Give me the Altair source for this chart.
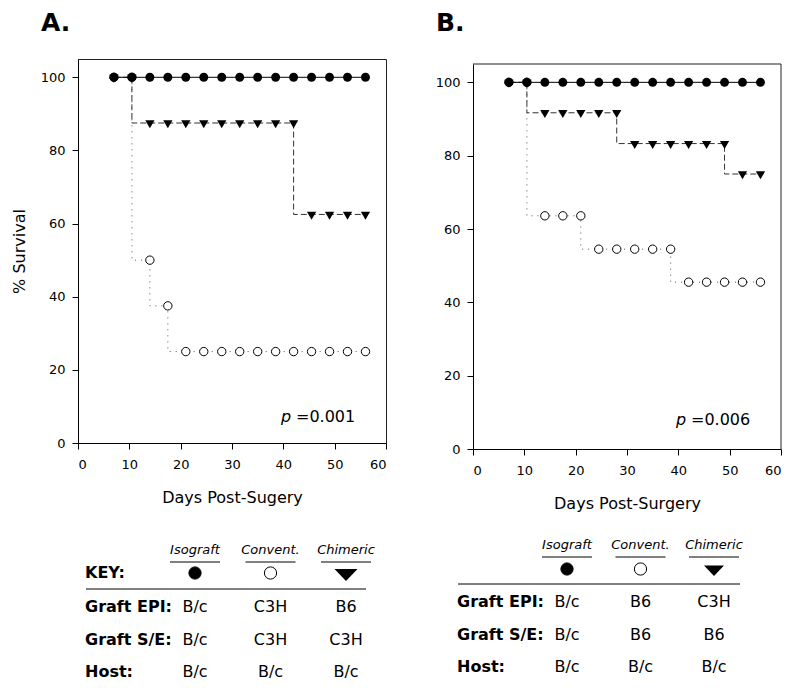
import altair as alt
import pandas as pd

# ---------------- data ----------------
days = [7, 10.5, 14, 17.5, 21, 24.5, 28, 31.5, 35, 38.5, 42, 45.5, 49, 52.5, 56]
groups = ["Isograft", "Convent.", "Chimeric"]

a_isograft = [100, 100, 100, 100, 100, 100, 100, 100, 100, 100, 100, 100, 100, 100, 100]
a_convent = [100, 100, 50, 37.5, 25, 25, 25, 25, 25, 25, 25, 25, 25, 25, 25]
a_chimeric = [100, 100, 87.5, 87.5, 87.5, 87.5, 87.5, 87.5, 87.5, 87.5, 87.5, 62.5, 62.5, 62.5, 62.5]

b_isograft = [100, 100, 100, 100, 100, 100, 100, 100, 100, 100, 100, 100, 100, 100, 100]
b_convent = [100, 100, 63.6, 63.6, 63.6, 54.5, 54.5, 54.5, 54.5, 54.5, 45.5, 45.5, 45.5, 45.5, 45.5]
b_chimeric = [100, 100, 91.7, 91.7, 91.7, 91.7, 91.7, 83.3, 83.3, 83.3, 83.3, 83.3, 83.3, 75, 75]

x_ticks = [0, 10, 20, 30, 40, 50, 60]
y_ticks = [0, 20, 40, 60, 80, 100]

key_rows = ["Graft EPI:", "Graft S/E:", "Host:"]
a_key_isograft = ["B/c", "B/c", "B/c"]
a_key_convent = ["C3H", "C3H", "B/c"]
a_key_chimeric = ["B6", "C3H", "B/c"]
b_key_isograft = ["B/c", "B/c", "B/c"]
b_key_convent = ["B6", "B6", "B/c"]
b_key_chimeric = ["C3H", "B6", "B/c"]

FONT = "DejaVu Sans"
FRAME = "#222222"
TRI_PLOT = "M-1,-0.577L1,-0.577L0,1.155Z"
TRI_KEY = "M-1,-0.35L1,-0.35L0,0.7Z"
W = 308


def panel(letter, iso, conv, chim, key_cols, x_title, y_title, p_label, g, show_key_word):
    n = len(days)
    top = g["top"]          # pixel offset of the plot frame below the group origin
    H = g["h"]
    surv = pd.DataFrame({
        "day": days + days + days,
        "pct": iso + conv + chim,
        "group": [groups[0]] * n + [groups[1]] * n + [groups[2]] * n,
    })
    if y_title is None:
        y_axis = alt.Axis(values=y_ticks, title=None, format="d")
    else:
        y_axis = alt.Axis(values=y_ticks, title=y_title, format="d")
    xq = alt.X("day:Q", scale=alt.Scale(domain=[0, 60], nice=False, zero=False),
               axis=alt.Axis(values=x_ticks, title=x_title, format="d"))
    yq = alt.Y("pct:Q", scale=alt.Scale(domain=[0, 105], nice=False, zero=False, range=[H, top]),
               axis=y_axis)
    base = alt.Chart(surv).encode(x=xq, y=yq)

    def sel(name):
        return base.transform_filter(alt.datum.group == name)

    l_conv = sel("Convent.").mark_line(interpolate="step-before", color="#555555",
                                       strokeWidth=1, strokeDash=[1, 5])
    l_chim = sel("Chimeric").mark_line(interpolate="step-before", color="#333333",
                                       strokeWidth=1, strokeDash=[6, 3])
    l_iso = sel("Isograft").mark_line(interpolate="step-before", color="black", strokeWidth=1)
    p_conv = sel("Convent.").mark_point(shape="circle", size=70, filled=True, fill="white",
                                        stroke="black", strokeWidth=1, opacity=1)
    p_chim = sel("Chimeric").mark_point(shape=TRI_PLOT, size=86, filled=True, color="black", opacity=1)
    p_iso = sel("Isograft").mark_point(shape="circle", size=80, filled=True, color="black", opacity=1)

    t_p = alt.Chart(pd.DataFrame({"t": ["p"]})).mark_text(
        font=FONT, fontSize=16, fontStyle="italic", align="center", baseline="alphabetic", color="black"
    ).encode(text="t:N", x=alt.value(g["px"]), y=alt.value(top + g["py"]))
    t_val = alt.Chart(pd.DataFrame({"t": [p_label]})).mark_text(
        font=FONT, fontSize=16, align="left", baseline="alphabetic", color="black"
    ).encode(text="t:N", x=alt.value(g["vx"]), y=alt.value(top + g["py"]))

    plot_layers = [l_conv, l_chim, l_iso, p_conv, p_chim, p_iso, t_p, t_val]
    if top > 0:
        frame_df = pd.DataFrame({"t": ["frame"]})
        f_top = alt.Chart(frame_df).mark_rule(color=FRAME, strokeWidth=1).encode(
            x=alt.value(0), x2=alt.value(W), y=alt.value(top))
        f_right = alt.Chart(frame_df).mark_rule(color=FRAME, strokeWidth=1).encode(
            x=alt.value(W), y=alt.value(top), y2=alt.value(H))
        plot_layers = [f_top, f_right] + plot_layers
    plot = alt.layer(*plot_layers)

    # ---- key table ----
    key_df = pd.DataFrame({
        "row": key_rows + key_rows + key_rows,
        "col": [groups[0]] * 3 + [groups[1]] * 3 + [groups[2]] * 3,
        "val": key_cols[0] + key_cols[1] + key_cols[2],
    })
    hdr = pd.DataFrame({"col": groups})
    rows_df = pd.DataFrame({"row": key_rows})
    one = pd.DataFrame({"t": ["KEY:"]})

    tx = alt.X("col:N", scale=alt.Scale(type="point", domain=groups, range=[g["c0"], g["c2"]], padding=0),
               axis=None)
    ty = alt.Y("row:N", scale=alt.Scale(type="point", domain=key_rows,
                                        range=[top + g["r0"], top + g["r2"]], padding=0),
               axis=None)

    headers = alt.Chart(hdr).mark_text(font=FONT, fontSize=13, fontStyle="italic", baseline="middle",
                                       color="black").encode(x=tx, y=alt.value(top + g["hy"]), text="col:N")
    underl = alt.Chart(hdr).mark_rule(color="black", strokeWidth=1, xOffset=-25, x2Offset=25).encode(
        x=tx, x2="col:N", y=alt.value(top + g["uy"]))
    circ = alt.Chart(hdr).transform_filter(alt.datum.col != "Chimeric").mark_point(
        shape="circle", size=150, filled=True, stroke="black", strokeWidth=1, opacity=1
    ).encode(x=tx, y=alt.value(top + g["sy"]),
             fill=alt.Fill("col:N", scale=alt.Scale(domain=["Isograft", "Convent."], range=["black", "white"]),
                           legend=None))
    tri = alt.Chart(hdr).transform_filter(alt.datum.col == "Chimeric").mark_point(
        shape=TRI_KEY, size=g["ts"], filled=True, color="black", opacity=1
    ).encode(x=tx, y=alt.value(top + g["sy"]))
    sep = alt.Chart(one).mark_rule(color="black", strokeWidth=1).encode(
        x=alt.value(g["s0"]), x2=alt.value(g["s1"]), y=alt.value(top + g["sepy"]))
    row_lbl = alt.Chart(rows_df).mark_text(font=FONT, fontSize=16, fontWeight="bold", align="left",
                                          baseline="middle", color="black").encode(
        x=alt.value(g["lx"]), y=ty, text="row:N")
    vals = alt.Chart(key_df).mark_text(font=FONT, fontSize=16, baseline="middle", color="black").encode(
        x=tx, y=ty, text="val:N")
    tlayers = [headers, underl, circ, tri, sep, row_lbl, vals]
    if show_key_word:
        kw = alt.Chart(one).mark_text(font=FONT, fontSize=16, fontWeight="bold", align="left",
                                      baseline="middle", color="black").encode(
            x=alt.value(g["lx"]), y=alt.value(top + g["sy"]), text="t:N")
        tlayers.append(kw)
    table = alt.layer(*tlayers)

    props = dict(
        width=W, height=H,
        title=alt.Title(letter, anchor="start", frame="group", dx=-37, offset=g["toff"], fontSize=25,
                        fontWeight="bold", font=FONT, color="black"),
    )
    if top > 0:
        props["view"] = alt.ViewBackground(stroke=None)
    return alt.layer(plot, table).resolve_scale(x="independent", y="independent").properties(**props)


geo_a = dict(top=0, h=384, px=208, py=363, vx=218, c0=117, c2=268, r0=548, r2=613, hy=491, uy=503,
             sy=514, sepy=530, s0=8, s1=288, lx=7, ts=529, toff=23)
geo_b = dict(top=5, h=390, px=208, py=361, vx=218, c0=94, c2=241, r0=538, r2=603, hy=481, uy=493,
             sy=505, sepy=520, s0=-15, s1=267, lx=-16, ts=400, toff=23)

col_a = panel("A.", a_isograft, a_convent, a_chimeric,
              [a_key_isograft, a_key_convent, a_key_chimeric],
              "Days Post-Sugery", "% Survival", "=0.001", geo_a, True)
col_b = panel("B.", b_isograft, b_convent, b_chimeric,
              [b_key_isograft, b_key_convent, b_key_chimeric],
              "Days Post-Surgery", None, "=0.006", geo_b, False)

chart = alt.hconcat(col_a, col_b, spacing=48).properties(
    padding={"left": 2, "top": 2, "right": 0, "bottom": 0}
).configure_view(stroke=FRAME, strokeWidth=1).configure_axis(
    labelFont=FONT, labelFontSize=13, labelColor="black",
    titleFont=FONT, titleFontSize=16, titleFontWeight="normal", titleColor="black",
    tickColor="black", domainColor="black", tickSize=6, grid=False, labelPadding=7,
).configure_axisY(titlePadding=13).configure_axisX(titlePadding=18, labelPadding=9)

chart.save("out.html", embed_options={"renderer": "svg", "actions": False})
